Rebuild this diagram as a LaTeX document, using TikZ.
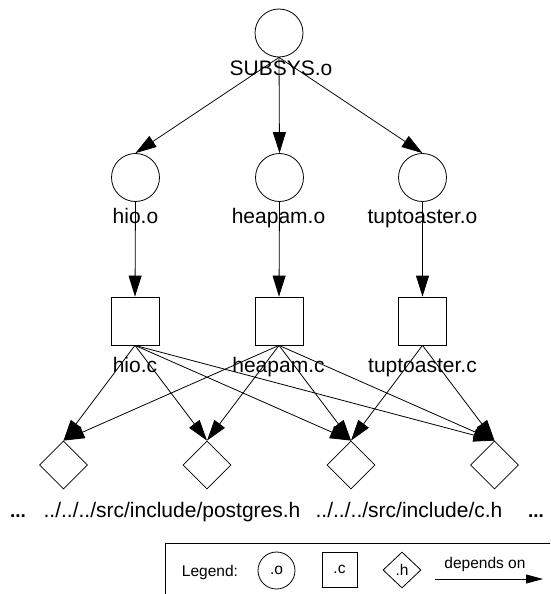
\documentclass[tikz,border=0pt]{standalone}
\usepackage{fontspec}
\setmainfont{Liberation Sans}
\usetikzlibrary{arrows.meta,shapes.geometric}
\begin{document}
\begin{tikzpicture}[x=1pt,y=-1pt,line width=0.8pt,
  obj/.style={circle,draw,minimum size=48pt,inner sep=0pt},
  srcbox/.style={rectangle,draw,minimum size=48pt,inner sep=0pt},
  hdr/.style={diamond,draw,minimum size=48pt,inner sep=0pt},
  lbl/.style={anchor=base,inner sep=0pt,font=\fontsize{21}{24}\selectfont},
  more/.style={anchor=base,inner sep=0pt,font=\fontsize{19}{22}\selectfont\bfseries},
  lgd/.style={inner sep=0pt,font=\fontsize{15.5}{18}\selectfont},
  dep/.style={-{Triangle[length=21pt,width=13pt]}},
  legarrow/.style={-{Triangle[length=17pt,width=9pt]}}]
\clip (0,0) rectangle (550,594);

% object files
\node[obj] (subsys) at (279,33) {};
\node[lbl] (subsysL) at (281,75) {SUBSYS.o};
\node[obj] (hioO) at (135.5,177.5) {};
\node[obj] (heapO) at (279.5,177.5) {};
\node[obj] (toastO) at (422.5,177.5) {};
\node[lbl] (hioOL) at (135.5,223) {hio.o};
\node[lbl] (heapOL) at (278.5,223) {heapam.o};
\node[lbl] (toastOL) at (422.5,223) {tuptoaster.o};

% source files
\node[srcbox] (hioC) at (135,321) {};
\node[srcbox] (heapC) at (279,321) {};
\node[srcbox] (toastC) at (422.5,321) {};
\node[lbl] (hioCL) at (135,372) {hio.c};
\node[lbl] (heapCL) at (278.5,372) {heapam.c};
\node[lbl] (toastCL) at (422.5,372) {tuptoaster.c};

% header files
\node[hdr] (h1) at (63.5,465) {};
\node[hdr] (h2) at (207,465) {};
\node[hdr] (h3) at (351,465) {};
\node[hdr] (h4) at (494.5,465) {};
\node[more] (dotsL) at (18,517) {...};
\node[lbl] (h2L) at (172,517) {../../../src/include/postgres.h};
\node[lbl] (h3L) at (409,517) {../../../src/include/c.h};
\node[more] (dotsR) at (536,517) {...};

% dependencies
\draw[dep] (subsys.south) -- (hioO.north);
\draw[dep] (subsys.south) -- (heapO.north);
\draw[dep] (subsys.south) -- (toastO.north);
\draw[dep] (hioO.south) -- (hioC.north);
\draw[dep] (heapO.south) -- (heapC.north);
\draw[dep] (toastO.south) -- (toastC.north);
\foreach \h in {h1,h2,h3,h4} {
  \draw[dep] (hioC.south) -- (\h.north);
  \draw[dep] (heapC.south) -- (\h.north);
}
\draw[dep] (toastC.south) -- (h3.north);
\draw[dep] (toastC.south) -- (h4.north);

% legend
\draw (165,543) rectangle (570,620);
\node[lgd,anchor=base] (legendL) at (210,576) {Legend:};
\node[lgd,circle,draw,minimum size=37pt] (lgO) at (276.5,570.5) {.o};
\node[lgd,rectangle,draw,minimum size=35pt] (lgC) at (339.5,569.5) {.c};
\node[lgd,diamond,draw,minimum width=38pt,minimum height=36pt] (lgH) at (402,570) {.h};
\node[lgd,anchor=base] (depL) at (485,568) {depends on};
\coordinate (arrA) at (435,579);
\coordinate (arrB) at (543,579);
\draw[legarrow] (arrA) -- (arrB);
\end{tikzpicture}
\end{document}
